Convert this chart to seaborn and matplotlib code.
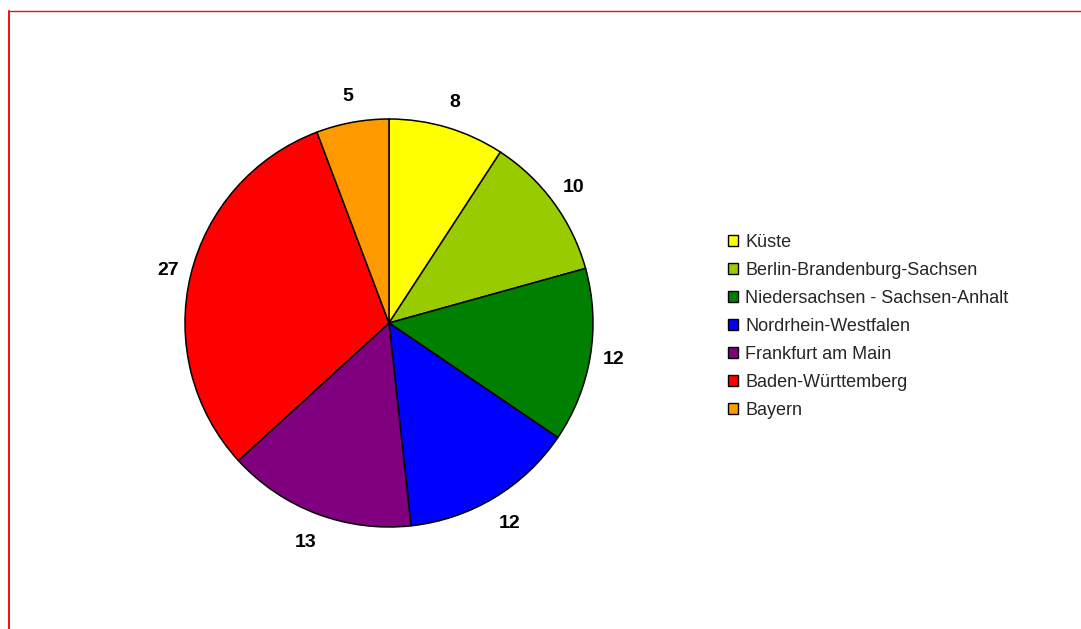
import matplotlib
matplotlib.use("Agg")
import numpy as np
import matplotlib.pyplot as plt
from matplotlib.lines import Line2D
import seaborn as sns

regions = ["Küste", "Berlin-Brandenburg-Sachsen", "Niedersachsen - Sachsen-Anhalt",
           "Nordrhein-Westfalen", "Frankfurt am Main", "Baden-Württemberg", "Bayern"]
counts = [8, 10, 12, 12, 13, 27, 5]
colors = ["#FFFF00", "#99CC00", "#008000", "#0000FF", "#800080", "#FF0000", "#FF9900"]

sns.set_theme(style="white")
plt.rcParams["font.family"] = ["Liberation Sans", "DejaVu Sans"]

W, H = 1081, 629
fig = plt.figure(figsize=(W / 100, H / 100), dpi=100)
fig.patch.set_facecolor("white")

# square axes centred on the pie (radius 1 -> ~204 px)
cx, cy, side = 389, 323, 600
ax = fig.add_axes([(cx - side / 2) / W, (H - cy - side / 2) / H, side / W, side / H])
lim = side / 2 / 204
wedges, texts = ax.pie(
    counts, colors=colors, startangle=90, counterclock=False,
    labels=[str(c) for c in counts], labeldistance=1.12,
    wedgeprops=dict(edgecolor="black", linewidth=1.1),
    textprops=dict(fontsize=14, fontweight="bold", color="black"),
)
# value labels sit a little further out below the pie than above it
for w, t in zip(wedges, texts):
    mid = np.deg2rad((w.theta1 + w.theta2) / 2)
    up = np.sin(mid)
    d = 1.11 + 0.02 * max(up, 0) + 0.045 * max(-up, 0)
    t.set_position((d * np.cos(mid), d * np.sin(mid)))
    t.set_horizontalalignment("center")
    t.set_verticalalignment("center")
ax.set_xlim(-lim, lim)
ax.set_ylim(-lim, lim)
ax.set_aspect("equal")
ax.axis("off")

handles = [plt.Rectangle((0, 0), 1, 1, facecolor=c, edgecolor="black", linewidth=1.0) for c in colors]
fig.legend(handles, regions, loc="upper left", bbox_to_anchor=(728 / W, 1 - 234 / H),
           frameon=False, fontsize=13, handlelength=0.55, handleheight=0.55,
           handletextpad=0.4, labelspacing=0.61, borderaxespad=0, borderpad=0)

# red frame lines along the top and left edges
fig.add_artist(Line2D([8.5 / W, 1.0], [1 - 11 / H, 1 - 11 / H], color="#EE1111", linewidth=1.0,
                      transform=fig.transFigure))
fig.add_artist(Line2D([8.5 / W, 8.5 / W], [0, 1 - 11 / H], color="#EE1111", linewidth=1.4,
                      transform=fig.transFigure))

fig.savefig("out.png", dpi=100)
